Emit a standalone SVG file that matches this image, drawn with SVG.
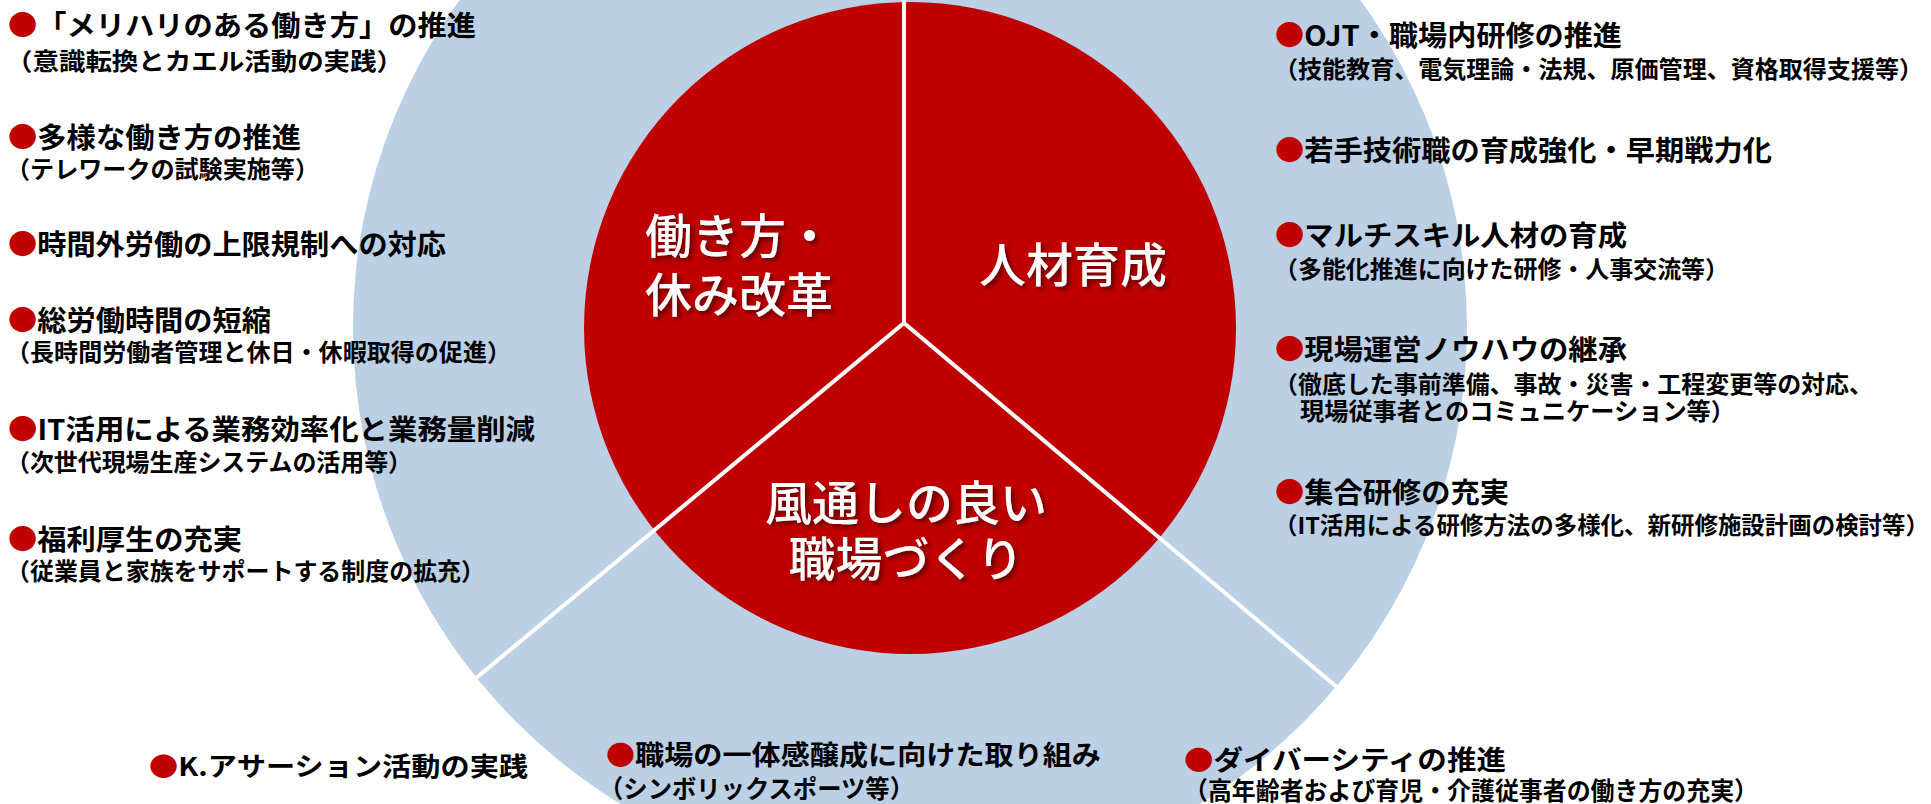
<svg xmlns="http://www.w3.org/2000/svg" width="1931" height="804" viewBox="0 0 1931 804">
<defs>
<style>
.t{font-family:"Noto Sans CJK JP","Noto Sans CJK SC",sans-serif;font-weight:700;fill:#000}
.m{font-size:28px}
.s{font-size:24px}
.b{fill:#C00000}
.c{font-family:"Noto Sans CJK JP","Noto Sans CJK SC",sans-serif;font-weight:500;font-size:47px;fill:#fff;filter:url(#sh)}
.div{stroke:#fff;stroke-width:4;fill:none}
</style>
<filter id="sh" x="-20%" y="-30%" width="140%" height="160%">
<feDropShadow dx="3" dy="3" stdDeviation="2" flood-color="#400000" flood-opacity="0.75"/>
</filter>
</defs>
<rect width="1931" height="804" fill="#fff"/>
<g id="pie">
<circle cx="910" cy="328" r="557" fill="#BBD0E5"/>
<circle cx="910" cy="328" r="326" fill="#C00000"/>
</g>
<g id="connectors">
<line class="div" x1="904" y1="-240" x2="904" y2="323"/>
<line class="div" x1="904" y1="323" x2="475" y2="679"/>
<line class="div" x1="904" y1="323" x2="1338" y2="688"/>
</g>
<g id="label-hatarakikata">
<text class="c" x="645" y="253">働き方・</text>
<text class="c" x="645" y="312">休み改革</text>
</g>
<g id="label-jinzai">
<text class="c" x="1073" y="282" text-anchor="middle">人材育成</text>
</g>
<g id="label-kazetooshi">
<text class="c" x="906" y="520" text-anchor="middle">風通しの良い</text>
<text class="c" x="906" y="576" text-anchor="middle">職場づくり</text>
</g>
<g id="left-items">
<g id="L1">
<text class="t m" x="8" y="36" textLength="468" lengthAdjust="spacingAndGlyphs"><tspan class="b">●</tspan>「メリハリのある働き方」の推進</text>
<text class="t s" x="6" y="70" textLength="397" lengthAdjust="spacingAndGlyphs">（意識転換とカエル活動の実践）</text>
</g>
<g id="L2">
<text class="t m" x="8" y="148" textLength="293" lengthAdjust="spacingAndGlyphs"><tspan class="b">●</tspan>多様な働き方の推進</text>
<text class="t s" x="6" y="178" textLength="313" lengthAdjust="spacingAndGlyphs">（テレワークの試験実施等）</text>
</g>
<g id="L3">
<text class="t m" x="8" y="255" textLength="438" lengthAdjust="spacingAndGlyphs"><tspan class="b">●</tspan>時間外労働の上限規制への対応</text>
</g>
<g id="L4">
<text class="t m" x="8" y="331" textLength="263" lengthAdjust="spacingAndGlyphs"><tspan class="b">●</tspan>総労働時間の短縮</text>
<text class="t s" x="6" y="361" textLength="505" lengthAdjust="spacingAndGlyphs">（長時間労働者管理と休日・休暇取得の促進）</text>
</g>
<g id="L5">
<text class="t m" x="8" y="440" textLength="527" lengthAdjust="spacingAndGlyphs"><tspan class="b">●</tspan>IT活用による業務効率化と業務量削減</text>
<text class="t s" x="6" y="471" textLength="406" lengthAdjust="spacingAndGlyphs">（次世代現場生産システムの活用等）</text>
</g>
<g id="L6">
<text class="t m" x="8" y="550" textLength="234" lengthAdjust="spacingAndGlyphs"><tspan class="b">●</tspan>福利厚生の充実</text>
<text class="t s" x="6" y="580" textLength="479" lengthAdjust="spacingAndGlyphs">（従業員と家族をサポートする制度の拡充）</text>
</g>
</g>
<g id="right-items">
<g id="R1">
<text class="t m" x="1275" y="46" textLength="347" lengthAdjust="spacingAndGlyphs"><tspan class="b">●</tspan>OJT・職場内研修の推進</text>
<text class="t s" x="1274" y="78" textLength="649" lengthAdjust="spacingAndGlyphs">（技能教育、電気理論・法規、原価管理、資格取得支援等）</text>
</g>
<g id="R2">
<text class="t m" x="1275" y="161" textLength="497" lengthAdjust="spacingAndGlyphs"><tspan class="b">●</tspan>若手技術職の育成強化・早期戦力化</text>
</g>
<g id="R3">
<text class="t m" x="1275" y="246" textLength="352" lengthAdjust="spacingAndGlyphs"><tspan class="b">●</tspan>マルチスキル人材の育成</text>
<text class="t s" x="1274" y="278" textLength="455" lengthAdjust="spacingAndGlyphs">（多能化推進に向けた研修・人事交流等）</text>
</g>
<g id="R4">
<text class="t m" x="1275" y="360" textLength="352" lengthAdjust="spacingAndGlyphs"><tspan class="b">●</tspan>現場運営ノウハウの継承</text>
<text class="t s" x="1274" y="393" textLength="599" lengthAdjust="spacingAndGlyphs">（徹底した事前準備、事故・災害・工程変更等の対応、</text>
<text class="t s" x="1300" y="420" textLength="435" lengthAdjust="spacingAndGlyphs">現場従事者とのコミュニケーション等）</text>
</g>
<g id="R5">
<text class="t m" x="1275" y="503" textLength="234" lengthAdjust="spacingAndGlyphs"><tspan class="b">●</tspan>集合研修の充実</text>
<text class="t" style="font-size:23.3px" x="1274" y="534" textLength="655" lengthAdjust="spacingAndGlyphs">（IT活用による研修方法の多様化、新研修施設計画の検討等）</text>
</g>
</g>
<g id="bottom-items">
<g id="B1">
<text class="t" style="font-size:26px" x="149" y="776" textLength="379" lengthAdjust="spacingAndGlyphs"><tspan class="b">●</tspan>K.アサーション活動の実践</text>
</g>
<g id="B2">
<text class="t" style="font-size:27px" x="606" y="765" textLength="495" lengthAdjust="spacingAndGlyphs"><tspan class="b">●</tspan>職場の一体感醸成に向けた取り組み</text>
<text class="t" style="font-size:25px" x="599" y="798" textLength="315" lengthAdjust="spacingAndGlyphs">（シンボリックスポーツ等）</text>
</g>
<g id="B3">
<text class="t" style="font-size:27px" x="1184" y="770" textLength="322" lengthAdjust="spacingAndGlyphs"><tspan class="b">●</tspan>ダイバーシティの推進</text>
<text class="t" style="font-size:25px" x="1184" y="800" textLength="574" lengthAdjust="spacingAndGlyphs">（高年齢者および育児・介護従事者の働き方の充実）</text>
</g>
</g>
</svg>
